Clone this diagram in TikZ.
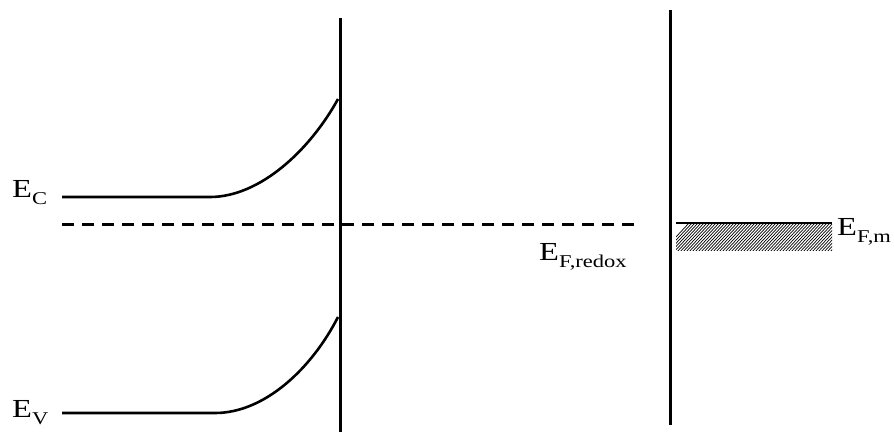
\documentclass[tikz,border=0pt]{standalone}
\usepackage{fontspec}
\setmainfont{Liberation Serif}
\newcommand{\subtxt}[1]{\raisebox{-7pt}{\fontsize{18}{20}\selectfont #1}}
\newcommand{\lbl}[1]{\scalebox{1.25}[1]{\fontsize{26}{28}\selectfont E\subtxt{#1}}}
\begin{document}
\begin{tikzpicture}[x=1pt,y=-1pt,
  wall/.style={line width=3pt},
  band/.style={line width=2.6pt},
  fermi/.style={line width=3pt,dash pattern=on 12pt off 8pt},
  metal/.style={line width=2pt},
  hatchline/.style={line width=0.7pt},
  lab/.style={inner sep=0pt}]
\useasboundingbox (0,0) rectangle (894,433);
% walls
\coordinate (w1t) at (340,18); \coordinate (w1b) at (340,432);
\coordinate (w2t) at (670,10); \coordinate (w2b) at (670,425);
\draw[wall] (w1t) -- (w1b);
\draw[wall] (w2t) -- (w2b);
% conduction band
\coordinate (ec0) at (62,197); \coordinate (ec1) at (210,197); \coordinate (ec2) at (338,99);
\draw[band] (ec0) -- (ec1) .. controls (260,197) and (310,150) .. (ec2);
% valence band
\coordinate (ev0) at (62,413); \coordinate (ev1) at (215,413); \coordinate (ev2) at (338,317);
\draw[band] (ev0) -- (ev1) .. controls (265,413) and (312,368) .. (ev2);
% fermi level redox
\coordinate (f0) at (62,224); \coordinate (f1) at (636,224);
\draw[fermi] (f0) -- (f1);
% metal fermi level with hatch
\coordinate (m0) at (676,223); \coordinate (m1) at (832,223);
\begin{scope}
  \clip (676,224) rectangle (832,250);
  \foreach \i in {0,3,...,200} {
    \draw[hatchline] (660+\i,254) -- (690+\i,222);
  }
\end{scope}
\draw[metal] (m0) -- (m1);
% labels
\node[lab,anchor=base west] (lec) at (12,197) {\lbl{C}};
\node[lab,anchor=base west] (lev) at (12,417) {\lbl{V}};
\node[lab,anchor=base west] (lfr) at (539,260) {\lbl{F,redox}};
\node[lab,anchor=base west] (lfm) at (837,235) {\lbl{F,m}};
\end{tikzpicture}
\end{document}
